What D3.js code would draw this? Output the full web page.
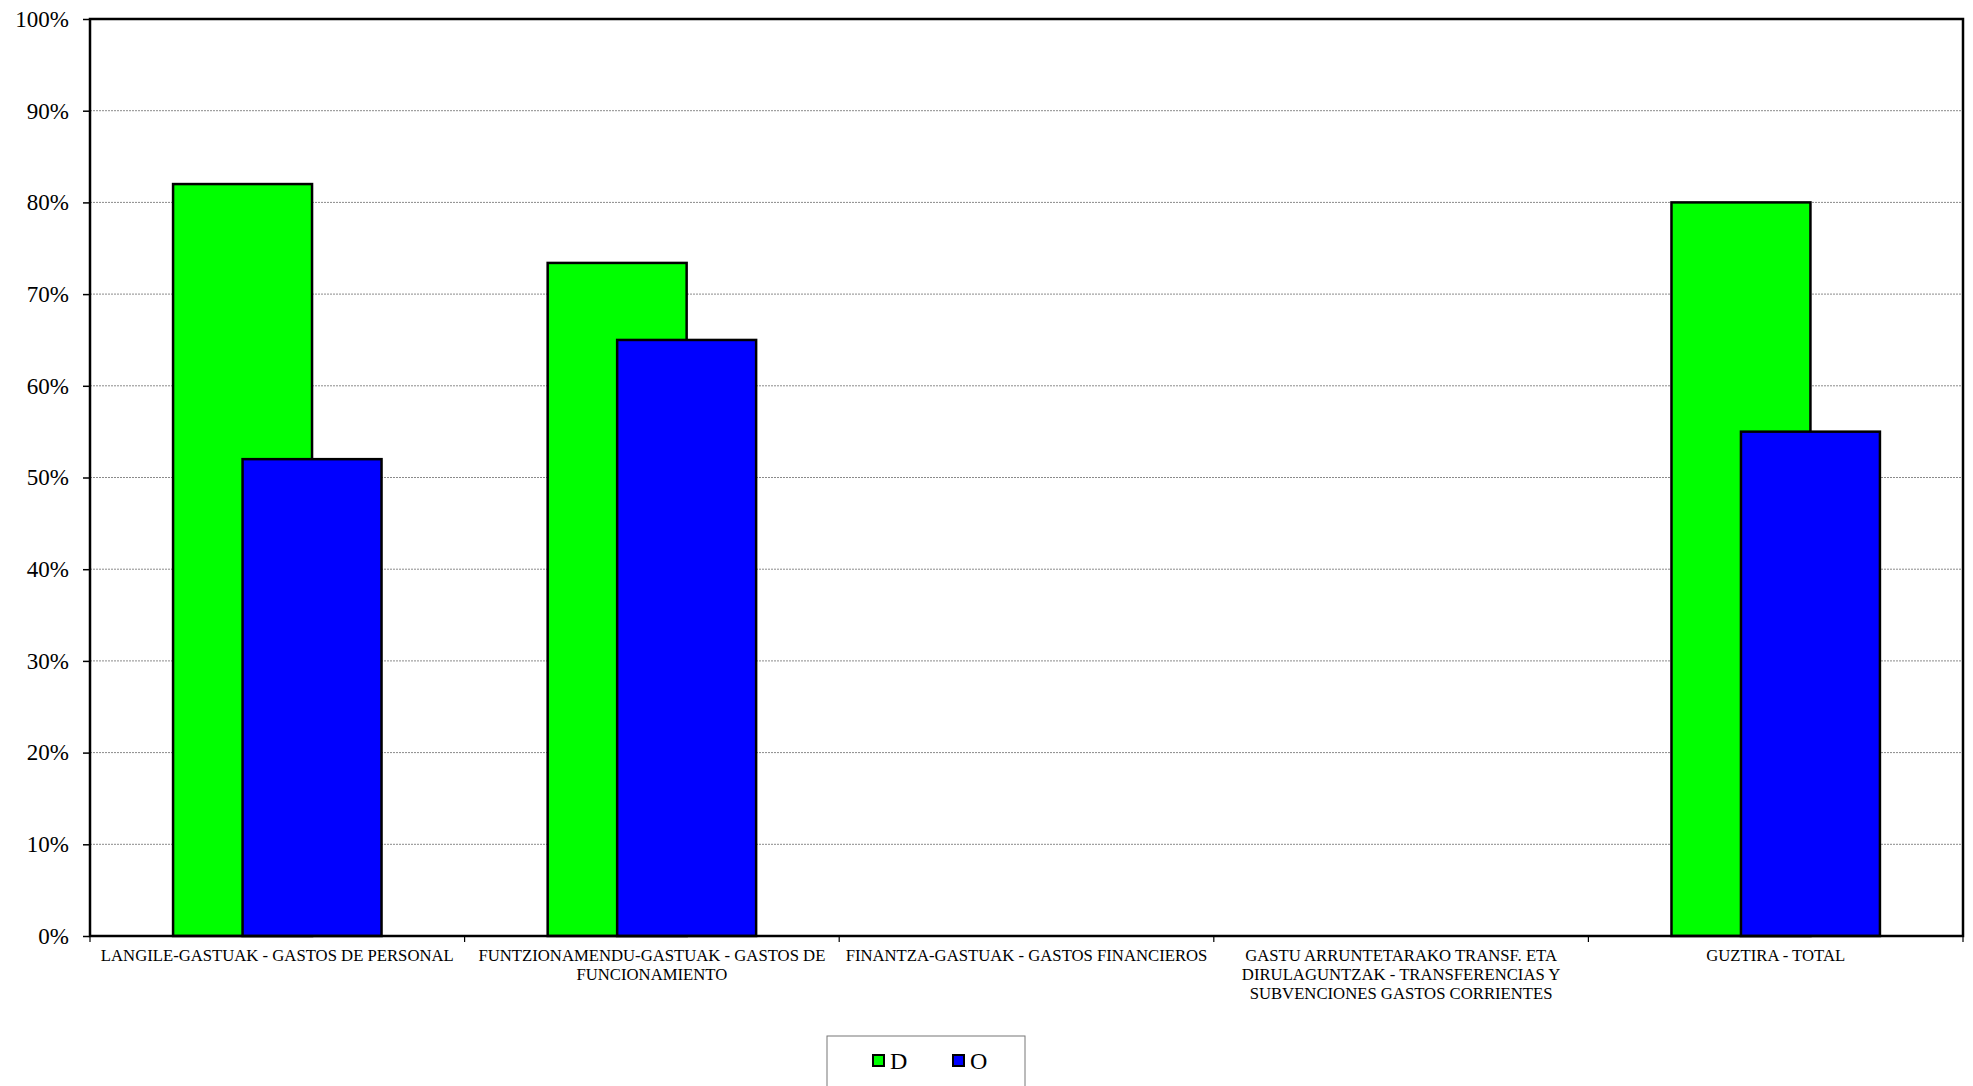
<!DOCTYPE html>
<html>
<head>
<meta charset="utf-8">
<script src="https://cdn.jsdelivr.net/npm/d3@7/dist/d3.min.js"></script>
<style>
  html, body { margin: 0; padding: 0; background: #fff; }
  svg { display: block; }
</style>
</head>
<body>
<svg id="chart" width="1973" height="1086"></svg>
<script>
const categories = [
  "LANGILE-GASTUAK - GASTOS DE PERSONAL",
  "FUNTZIONAMENDU-GASTUAK - GASTOS DE\nFUNCIONAMIENTO",
  "FINANTZA-GASTUAK - GASTOS FINANCIEROS",
  "GASTU ARRUNTETARAKO TRANSF. ETA\nDIRULAGUNTZAK - TRANSFERENCIAS Y\nSUBVENCIONES GASTOS CORRIENTES",
  "GUZTIRA - TOTAL"
];
const seriesNames = ["D", "O"];
const seriesColors = ["#00ff00", "#0000ff"];
const valuesD = [0.82, 0.734, null, null, 0.80];
const valuesO = [0.52, 0.65, null, null, 0.55];
const yTicks = [0, 0.1, 0.2, 0.3, 0.4, 0.5, 0.6, 0.7, 0.8, 0.9, 1.0];

(function () {
const svg = d3.select("#chart");
const mL = 90, mR = 1963, mT = 19, mB = 936;
const font = "'Liberation Serif', 'Times New Roman', serif";

const x = d3.scaleBand().domain(categories).range([mL, mR]).paddingInner(0).paddingOuter(0);
const y = d3.scaleLinear().domain([0, 1]).range([mB, mT]);

const barW = x.bandwidth() * 0.371;

// gridlines
svg.append("g").selectAll("line").data(yTicks.filter(t => t > 0 && t < 1)).join("line")
  .attr("x1", mL).attr("x2", mR)
  .attr("y1", d => y(d)).attr("y2", d => y(d))
  .attr("stroke", "#8a8a8a").attr("stroke-width", 1)
  .attr("stroke-dasharray", "2,1");

// bars
const series = [valuesD, valuesO];
series.forEach((vals, si) => {
  svg.append("g").selectAll("rect")
    .data(categories.map((c, i) => ({ c, v: vals[i] })).filter(d => d.v != null))
    .join("rect")
    .attr("x", d => x(d.c) + x.bandwidth() / 2 - barW * 0.75 + si * barW * 0.5)
    .attr("y", d => y(d.v))
    .attr("width", barW)
    .attr("height", d => y(0) - y(d.v))
    .attr("fill", seriesColors[si])
    .attr("stroke", "#000")
    .attr("stroke-width", 2.5);
});

// plot border
svg.append("rect")
  .attr("x", mL).attr("y", mT)
  .attr("width", mR - mL).attr("height", mB - mT)
  .attr("fill", "none").attr("stroke", "#000").attr("stroke-width", 2.5);

// y axis
const yAxis = d3.axisLeft(y).tickValues(yTicks).tickFormat(d3.format(".0%")).tickSize(7).tickPadding(14);
const gy = svg.append("g").attr("transform", `translate(${mL},0)`).call(yAxis);
gy.select(".domain").remove();
gy.selectAll(".tick line").attr("stroke", "#000").attr("stroke-width", 1.5);
gy.selectAll(".tick text").attr("font-family", font).attr("font-size", 23).attr("fill", "#000");

// x axis ticks at category boundaries
const boundaries = categories.map(c => x(c)).concat([mR]);
svg.append("g").selectAll("line").data(boundaries).join("line")
  .attr("x1", d => d).attr("x2", d => d)
  .attr("y1", mB).attr("y2", mB + 6)
  .attr("stroke", "#000").attr("stroke-width", 1.2);

// x labels
const lblG = svg.append("g");
categories.forEach(c => {
  const lines = c.split("\n");
  const t = lblG.append("text")
    .attr("x", x(c) + x.bandwidth() / 2)
    .attr("y", 961)
    .attr("text-anchor", "middle")
    .attr("font-family", font).attr("font-size", 16.7).attr("fill", "#000");
  lines.forEach((ln, i) => {
    t.append("tspan").attr("x", x(c) + x.bandwidth() / 2).attr("dy", i === 0 ? 0 : 19).text(ln);
  });
});

// legend
const lg = svg.append("g");
lg.append("rect").attr("x", 827).attr("y", 1036).attr("width", 198).attr("height", 60)
  .attr("fill", "#fff").attr("stroke", "#777").attr("stroke-width", 1);
const legendX = [873, 953];
seriesNames.forEach((n, i) => {
  lg.append("rect").attr("x", legendX[i]).attr("y", 1055).attr("width", 11).attr("height", 11)
    .attr("fill", seriesColors[i]).attr("stroke", "#000").attr("stroke-width", 2);
  lg.append("text").attr("x", legendX[i] + 17).attr("y", 1069)
    .attr("font-family", font).attr("font-size", 24).attr("fill", "#000").text(n);
});
})();
</script>
</body>
</html>
